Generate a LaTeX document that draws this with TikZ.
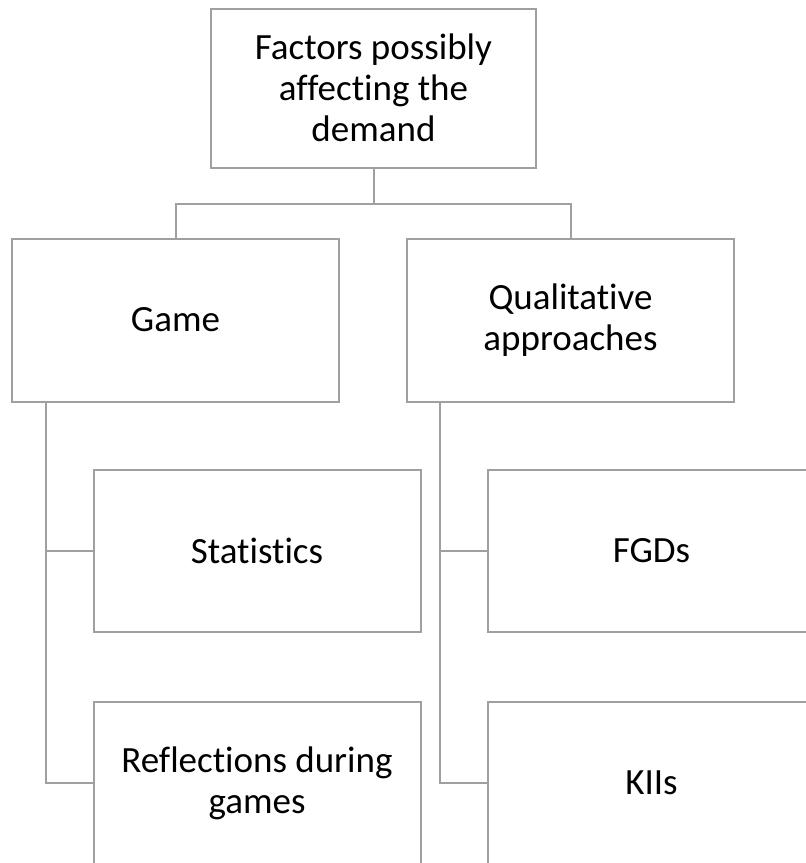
\documentclass[tikz,border=0pt]{standalone}
\usepackage{fontspec}
\setmainfont{Carlito}[Ligatures=CommonOff]
\begin{document}
\begin{tikzpicture}[x=1pt,y=-1pt,
  box/.style={draw=linegray, line width=2pt, fill=white, inner sep=0pt, align=center,
    font=\fontsize{37}{41}\selectfont, text=black, minimum width=327pt, minimum height=163pt},
  conn/.style={draw=linegray, line width=2pt}]
\definecolor{linegray}{HTML}{A0A0A0}
\useasboundingbox (0,0) rectangle (806,863);
\clip (0,0) rectangle (806,863);
\fill[white] (0,0) rectangle (806,863);
\node[box, minimum width=325pt, minimum height=159pt] (top) at (373.5,88) {Factors possibly\\affecting the\\demand};
\node[box] (game) at (175.5,320) {Game};
\node[box] (qual) at (570.5,320) {Qualitative\\approaches};
\node[box, minimum height=162pt] (stats) at (257,551) {Statistics};
\node[box] (refl) at (257,783) {Reflections during\\games};
\node[box, minimum height=162pt] (fgd) at (651.5,551) {FGDs};
\node[box] (kii) at (651.5,783) {KIIs};
\coordinate (split) at (373.5,204);
\coordinate (gl) at (46,402);
\coordinate (ql) at (440,402);
\draw[conn] (top.south) -- (split);
\draw[conn] (split) -| (game.north);
\draw[conn] (split) -| (qual.north);
\draw[conn] (gl) |- (refl.west);
\draw[conn] (gl |- stats.west) -- (stats.west);
\draw[conn] (ql) |- (kii.west);
\draw[conn] (ql |- fgd.west) -- (fgd.west);
\end{tikzpicture}
\end{document}
